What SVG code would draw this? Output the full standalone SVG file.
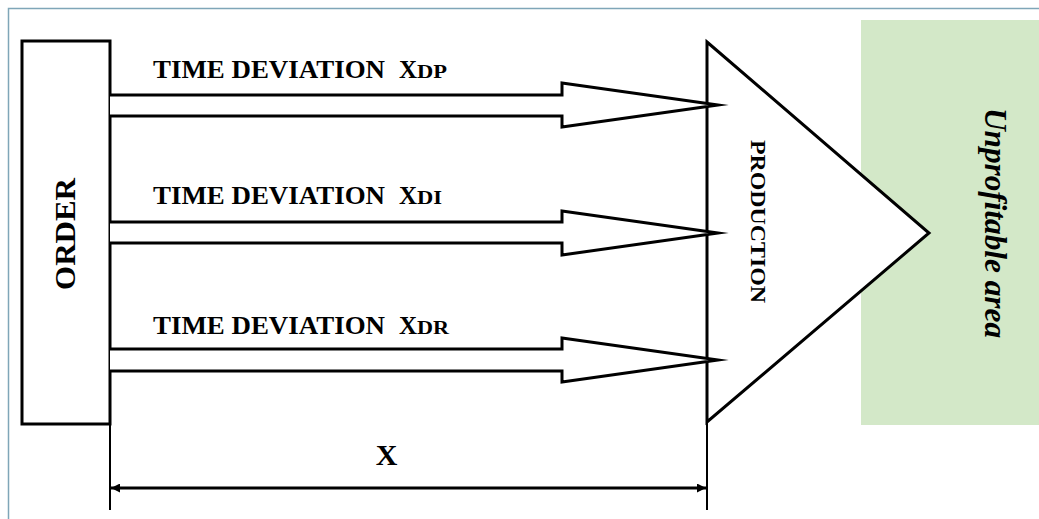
<svg xmlns="http://www.w3.org/2000/svg" width="1039" height="519" viewBox="0 0 1039 519">
<style>
.t{font-family:"Liberation Serif",serif;font-weight:bold;fill:#000}
.ln{fill:none;stroke:#000;stroke-width:3}
.arr{fill:#fff;stroke:#000;stroke-width:3;stroke-linejoin:miter;stroke-miterlimit:20}
</style>
<defs>
<marker id="ah" viewBox="0 0 10 10" refX="10" refY="5" markerWidth="10" markerHeight="9" orient="auto-start-reverse" markerUnits="userSpaceOnUse">
<path d="M0,0 L10,5 L0,10 Z" fill="#000"/>
</marker>
</defs>
<rect width="1039" height="519" fill="#fff"/>
<path d="M8.5,1039 V8.5 H1039" fill="none" stroke="#7fa6b8" stroke-width="1.5"/>
<g id="area">
<rect x="861" y="20" width="178" height="405" fill="#d3e8c8"/>
<text class="t" font-style="italic" font-size="31" transform="translate(985,108) rotate(90)" textLength="230" lengthAdjust="spacingAndGlyphs">Unprofitable area</text>
</g>
<g id="order">
<rect x="22" y="41" width="88" height="383" class="ln" fill="#fff"/>
<text class="t" font-size="30" text-anchor="middle" transform="translate(75,234) rotate(-90)" textLength="112" lengthAdjust="spacingAndGlyphs">ORDER</text>
</g>
<g id="production">
<polygon points="707,42 929,233 707,422" fill="#fff" stroke="#000" stroke-width="3"/>
<text class="t" font-size="22" transform="translate(751,140) rotate(90)" textLength="163" lengthAdjust="spacingAndGlyphs">PRODUCTION</text>
</g>
<g id="connectors">
<path class="arr" d="M110,95 H562 V83 L718,105 L562,127 V116 H110"/>
<path class="arr" d="M110,222 H562 V211 L718,233 L562,255 V243 H110"/>
<path class="arr" d="M110,349 H562 V338 L718,360 L562,382 V371 H110"/>
<line x1="110" y1="424" x2="110" y2="510" stroke="#000" stroke-width="2"/>
<line x1="707" y1="422" x2="707" y2="510" stroke="#000" stroke-width="2"/>
<line x1="111" y1="488" x2="706" y2="488" stroke="#000" stroke-width="3" marker-start="url(#ah)" marker-end="url(#ah)"/>
</g>
<g id="labels">
<text class="t" x="153" y="78" font-size="25"><tspan textLength="232" lengthAdjust="spacingAndGlyphs">TIME DEVIATION</tspan><tspan x="399">X</tspan><tspan font-size="18" textLength="30" lengthAdjust="spacingAndGlyphs">DP</tspan></text>
<text class="t" x="153" y="204" font-size="25"><tspan textLength="232" lengthAdjust="spacingAndGlyphs">TIME DEVIATION</tspan><tspan x="399">X</tspan><tspan font-size="18" textLength="25" lengthAdjust="spacingAndGlyphs">DI</tspan></text>
<text class="t" x="153" y="334" font-size="25"><tspan textLength="232" lengthAdjust="spacingAndGlyphs">TIME DEVIATION</tspan><tspan x="399">X</tspan><tspan font-size="18" textLength="32" lengthAdjust="spacingAndGlyphs">DR</tspan></text>
<text class="t" x="386.5" y="465" font-size="30" text-anchor="middle">X</text>
</g>
</svg>
